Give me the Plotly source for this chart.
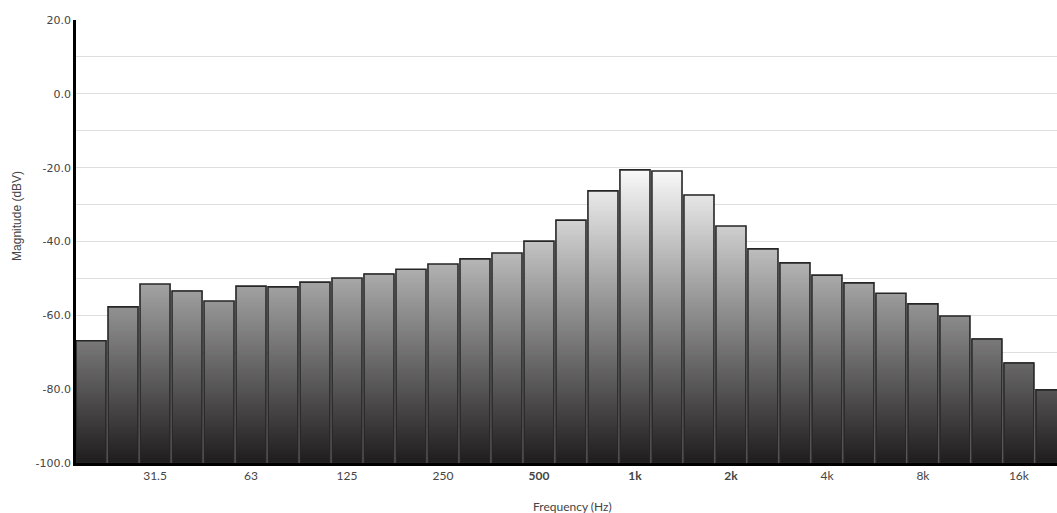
import plotly.graph_objects as go

# 1/3-octave band centre frequencies and measured levels (dBV)
bands = ["20", "25", "31.5", "40", "50", "63", "80", "100", "125", "160",
         "200", "250", "315", "400", "500", "630", "800", "1k", "1.25k", "1.6k",
         "2k", "2.5k", "3.15k", "4k", "5k", "6.3k", "8k", "10k", "12.5k", "16k", "20k"]
levels = [-66.9, -57.7, -51.5, -53.4, -56.1, -52.1, -52.3, -51.0, -49.9, -48.8,
          -47.5, -46.1, -44.7, -43.1, -39.9, -34.2, -26.3, -20.6, -20.9, -27.4,
          -35.8, -42.0, -45.8, -49.1, -51.2, -54.0, -56.9, -60.2, -66.4, -72.9, -80.2]

# labelled bands (index into bands) and their text
label_idx = [2, 5, 8, 11, 14, 17, 20, 23, 26, 29]
label_text = ["31.5", "63", "125", "250", "<b>500</b>", "<b>1k</b>", "<b>2k</b>", "4k", "8k", "16k"]

# y-axis labels
y_ticks = [20, 0, -20, -40, -60, -80, -100]
y_tick_text = ["20.0", "0.0", "-20.0", "-40.0", "-60.0", "-80.0", "-100.0"]

Y_MIN, Y_MAX = -100.0, 20.0
GRAD_LO, GRAD_HI = -100.0, -20.0
C_LO = (30, 28, 29)
C_HI = (250, 250, 250)


def shade(v):
    t = (v - GRAD_LO) / (GRAD_HI - GRAD_LO)
    t = max(0.0, min(1.0, t))
    return "rgb(%d,%d,%d)" % tuple(round(a + (b - a) * t) for a, b in zip(C_LO, C_HI))


xs = list(range(len(bands)))
fig = go.Figure()

# vertical gradient fill: thin slices stacked from the floor up to each level
step = 0.5
lvl = Y_MIN
while lvl < max(levels):
    sx, sh = [], []
    for i, v in zip(xs, levels):
        if v > lvl:
            sx.append(i)
            sh.append(min(step, v - lvl) + (0.02 if v - lvl > step else 0))
    fig.add_trace(go.Bar(
        x=sx, y=sh, base=[lvl] * len(sx),
        marker=dict(color=shade(lvl + step / 2), line=dict(width=0)),
        hoverinfo="skip", showlegend=False,
    ))
    lvl += step

# bar outlines
fig.add_trace(go.Bar(
    x=xs, y=[v - Y_MIN for v in levels], base=[Y_MIN] * len(xs),
    marker=dict(color="rgba(0,0,0,0)", line=dict(color="#262626", width=1.6)),
    customdata=bands, hovertemplate="%{customdata} Hz: %{y}<extra></extra>",
    showlegend=False,
))

fig.update_layout(
    width=1057, height=513,
    margin=dict(l=76, r=0, t=20, b=50),
    paper_bgcolor="white", plot_bgcolor="white",
    barmode="overlay", bargap=0.06,
    font=dict(family="Lato", size=12, color="#444"),
    xaxis=dict(
        range=[-0.47, 30.19], tickvals=[xs[i] for i in label_idx], ticktext=label_text,
        showgrid=False, zeroline=False, ticks="",
        showline=True, linecolor="#000", linewidth=2.5,
        tickfont=dict(family="Lato", size=12, color="#444"),
    ),
    yaxis=dict(
        range=[Y_MIN, Y_MAX], tickvals=y_ticks, ticktext=y_tick_text,
        showgrid=True, gridcolor="#dedede", gridwidth=1, zeroline=False, ticks="",
        minor=dict(dtick=10, showgrid=True, gridcolor="#dedede", gridwidth=1),
        showline=True, linecolor="#000", linewidth=2.5,
        tickfont=dict(family="DejaVu Sans", size=11, color="#444"),
    ),
    annotations=[
        dict(text="Frequency (Hz)", xref="paper", yref="paper", x=0.506, y=-0.099,
             xanchor="center", yanchor="middle", showarrow=False,
             font=dict(family="Lato", size=12, color="#444")),
        dict(text="Magnitude (dBV)", xref="paper", yref="paper", x=-0.06, y=0.558,
             xanchor="center", yanchor="middle", textangle=-90, showarrow=False,
             font=dict(family="Liberation Sans", size=12, color="#444")),
    ],
)

fig.write_html("out.html")
